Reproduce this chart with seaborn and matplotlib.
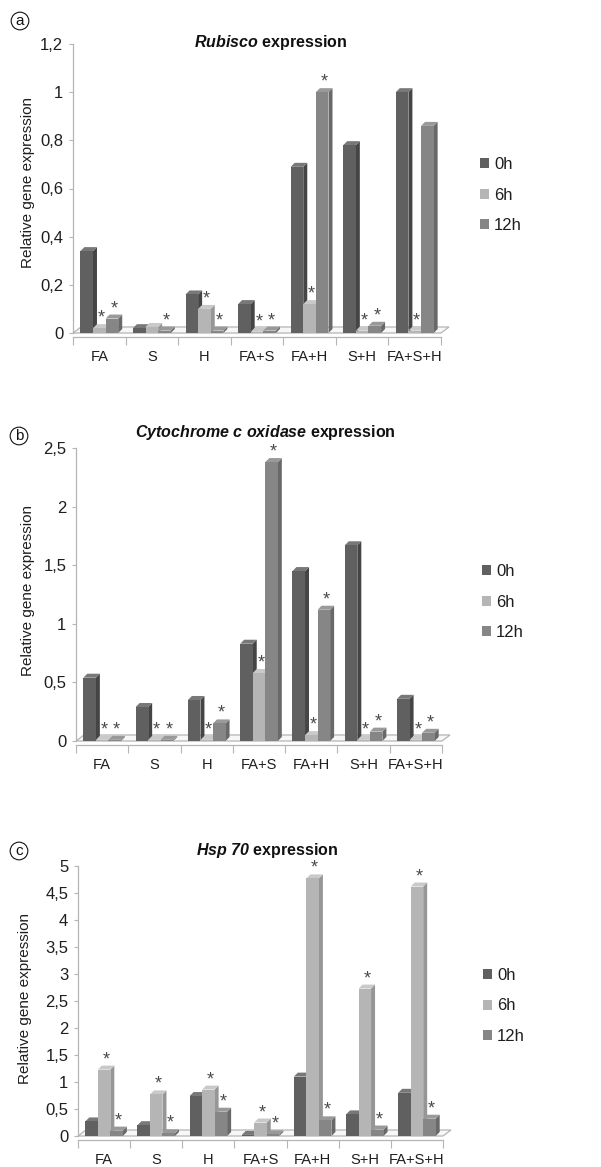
import numpy as np
import pandas as pd
import matplotlib
matplotlib.use("Agg")
import matplotlib.pyplot as plt
from matplotlib.patches import Polygon, Patch
from matplotlib.transforms import IdentityTransform
import seaborn as sns

# ---------------- data ----------------
categories = ["FA", "S", "H", "FA+S", "FA+H", "S+H", "FA+S+H"]
times = ["0h", "6h", "12h"]

rubisco_0h = [0.34, 0.02, 0.16, 0.12, 0.69, 0.78, 1.00]
rubisco_6h = [0.02, 0.025, 0.10, 0.005, 0.12, 0.01, 0.01]
rubisco_12h = [0.06, 0.01, 0.01, 0.01, 1.00, 0.03, 0.86]
rubisco_star_6h = [1, 0, 1, 1, 1, 1, 1]
rubisco_star_12h = [1, 1, 1, 1, 1, 1, 0]

cox_0h = [0.54, 0.29, 0.35, 0.83, 1.45, 1.67, 0.36]
cox_6h = [0.01, 0.01, 0.01, 0.58, 0.05, 0.01, 0.01]
cox_12h = [0.01, 0.01, 0.15, 2.38, 1.12, 0.08, 0.07]
cox_star_6h = [1, 1, 1, 1, 1, 1, 1]
cox_star_12h = [1, 1, 1, 1, 1, 1, 1]

hsp_0h = [0.27, 0.20, 0.74, 0.02, 1.10, 0.40, 0.80]
hsp_6h = [1.23, 0.77, 0.86, 0.25, 4.77, 2.73, 4.62]
hsp_12h = [0.10, 0.05, 0.45, 0.03, 0.29, 0.12, 0.32]
hsp_star_6h = [1, 1, 1, 1, 1, 1, 1]
hsp_star_12h = [1, 1, 1, 1, 1, 1, 1]

rubisco_ticks = [0, 0.2, 0.4, 0.6, 0.8, 1.0, 1.2]
rubisco_ticklabels = ["0", "0,2", "0,4", "0,6", "0,8", "1", "1,2"]
cox_ticks = [0, 0.5, 1.0, 1.5, 2.0, 2.5]
cox_ticklabels = ["0", "0,5", "1", "1,5", "2", "2,5"]
hsp_ticks = [0, 0.5, 1, 1.5, 2, 2.5, 3, 3.5, 4, 4.5, 5]
hsp_ticklabels = ["0", "0,5", "1", "1,5", "2", "2,5", "3", "3,5", "4", "4,5", "5"]

# ---------------- style ----------------
W, H = 601, 1167
DPI = 100
sns.set_theme(style="white")
plt.rcParams["font.family"] = ["Liberation Sans", "DejaVu Sans"]
plt.rcParams["mathtext.fontset"] = "custom"
plt.rcParams["mathtext.rm"] = "Liberation Sans"
plt.rcParams["mathtext.it"] = "Liberation Sans:italic"
plt.rcParams["mathtext.bf"] = "Liberation Sans:bold"
plt.rcParams["mathtext.bfit"] = "Liberation Sans:bold:italic"

front_colors = ["#606060", "#b5b5b5", "#868686"]
side_colors = ["#454545", "#969696", "#696969"]
top_colors = ["#787878", "#c9c9c9", "#999999"]
spine_color = "#b5b5b5"
text_color = "#1e1e1e"

fig = plt.figure(figsize=(W / DPI, H / DPI), dpi=DPI)

DX, DY = 4, 4  # 3D depth in pixels


def px_rect(left, right, top, bottom):
    return [left / W, 1 - bottom / H, (right - left) / W, (bottom - top) / H]


def panel(rect, v0, v6, v12, s6, s12, ymax, ticks, ticklabels, title,
          title_xy, letter, letter_xy, ylabel_xy, legend_xy):
    ax = fig.add_axes(rect)
    df = pd.DataFrame({
        "category": categories * 3,
        "time": [times[0]] * 7 + [times[1]] * 7 + [times[2]] * 7,
        "value": list(v0) + list(v6) + list(v12),
    })
    sns.barplot(data=df, x="category", y="value", hue="time",
                hue_order=times, order=categories,
                palette=front_colors, saturation=1, width=0.72,
                linewidth=0, legend=False, ax=ax)
    ax.set_xlim(-0.5, 6.5)
    ax.set_ylim(0, ymax)
    ax.set_xlabel("")
    ax.set_ylabel("")

    # floor parallelogram
    tr = ax.transData
    (xl, y0), (xr, _) = tr.transform([(-0.5, 0), (6.5, 0)])
    floor = Polygon([(xl, y0), (xr, y0), (xr + 8, y0 + 6), (xl + 8, y0 + 6)],
                    closed=True, transform=IdentityTransform(),
                    facecolor="#f7f7f7", edgecolor=spine_color, lw=0.9,
                    zorder=1.5, clip_on=False)
    ax.add_artist(floor)

    # 3D faces
    bars = [p for p in ax.patches if isinstance(p, matplotlib.patches.Rectangle)]
    stars = [None] * 7 + list(s6) + list(s12)
    for i, p in enumerate(bars):
        hue = i // 7
        cat = i % 7
        z = 3 + (cat * 3 + hue) * 0.01
        x0, x1 = p.get_x(), p.get_x() + p.get_width()
        h = p.get_height()
        (a0, b0), (a1, b1) = tr.transform([(x0, 0), (x1, h)])
        side = Polygon([(a1, b0), (a1, b1), (a1 + DX, b1 + DY), (a1 + DX, b0 + DY)],
                       closed=True, transform=IdentityTransform(),
                       facecolor=side_colors[hue], edgecolor="none",
                       zorder=z, clip_on=False)
        top = Polygon([(a0, b1), (a1, b1), (a1 + DX, b1 + DY), (a0 + DX, b1 + DY)],
                      closed=True, transform=IdentityTransform(),
                      facecolor=top_colors[hue], edgecolor="none",
                      zorder=z, clip_on=False)
        ax.add_artist(side)
        ax.add_artist(top)
        p.set_zorder(z + 0.005)
        if stars[i]:
            ax.annotate("*", xy=((x0 + x1) / 2, h), xytext=(2, 10),
                        textcoords="offset pixels", ha="center", va="center",
                        fontsize=13, color="#4a4a4a", zorder=10,
                        annotation_clip=False)

    # axes styling
    for s in ["top", "right"]:
        ax.spines[s].set_visible(False)
    for s in ["left", "bottom"]:
        ax.spines[s].set_color(spine_color)
        ax.spines[s].set_linewidth(0.9)
    ax.spines["bottom"].set_position(("outward", 3))
    ax.set_yticks(ticks)
    ax.set_yticklabels(ticklabels)
    ax.tick_params(axis="y", which="major", length=3, width=0.8,
                   color=spine_color, labelsize=12, labelcolor=text_color, pad=4,
                   left=True)
    ax.set_xticks(range(7))
    ax.set_xticklabels(categories)
    ax.set_xticks(np.arange(-0.5, 7.0, 1.0), minor=True)
    ax.tick_params(axis="x", which="major", length=0, labelsize=10.5,
                   labelcolor=text_color, pad=9)
    ax.tick_params(axis="x", which="minor", length=6, width=0.8,
                   color=spine_color, bottom=True)
    ax.grid(False)

    fig.text(title_xy[0] / W, 1 - title_xy[1] / H, title, ha="center",
             va="center", fontsize=11.5, fontweight="bold", color="#111111")
    fig.text(letter_xy[0] / W, 1 - letter_xy[1] / H, letter, ha="center",
             va="center", fontsize=11, color="#111111",
             bbox=dict(boxstyle="circle,pad=0.12", fc="white", ec="#111111", lw=0.8))
    fig.text(ylabel_xy[0] / W, 1 - ylabel_xy[1] / H, "Relative gene expression",
             rotation=90, ha="center", va="center", fontsize=11, color=text_color)

    handles = [Patch(facecolor=c, edgecolor="none") for c in front_colors]
    fig.legend(handles, times, loc="center left",
               bbox_to_anchor=(legend_xy[0] / W, 1 - legend_xy[1] / H),
               bbox_transform=fig.transFigure, frameon=False, fontsize=12,
               handlelength=0.55, handleheight=0.55, handletextpad=0.3,
               labelspacing=0.95, borderpad=0, borderaxespad=0,
               labelcolor=text_color)
    return ax


panel(px_rect(73, 441, 44, 333), rubisco_0h, rubisco_6h, rubisco_12h,
      rubisco_star_6h, rubisco_star_12h, 1.2, rubisco_ticks, rubisco_ticklabels,
      r"$\bfit{Rubisco}$ expression", (271, 42), "a", (20, 21), (28, 183), (480, 195))

panel(px_rect(76, 442, 448, 741), cox_0h, cox_6h, cox_12h,
      cox_star_6h, cox_star_12h, 2.5, cox_ticks, cox_ticklabels,
      r"$\bfit{Cytochrome\ c\ oxidase}$ expression", (265, 433), "b", (19, 436),
      (28, 591), (482, 602))

panel(px_rect(78, 443, 866, 1136), hsp_0h, hsp_6h, hsp_12h,
      hsp_star_6h, hsp_star_12h, 5, hsp_ticks, hsp_ticklabels,
      r"$\bfit{Hsp\ 70}$ expression", (267, 850), "c", (19, 851),
      (25, 998), (483, 1006))

fig.savefig("out.png", dpi=DPI, facecolor="white")
